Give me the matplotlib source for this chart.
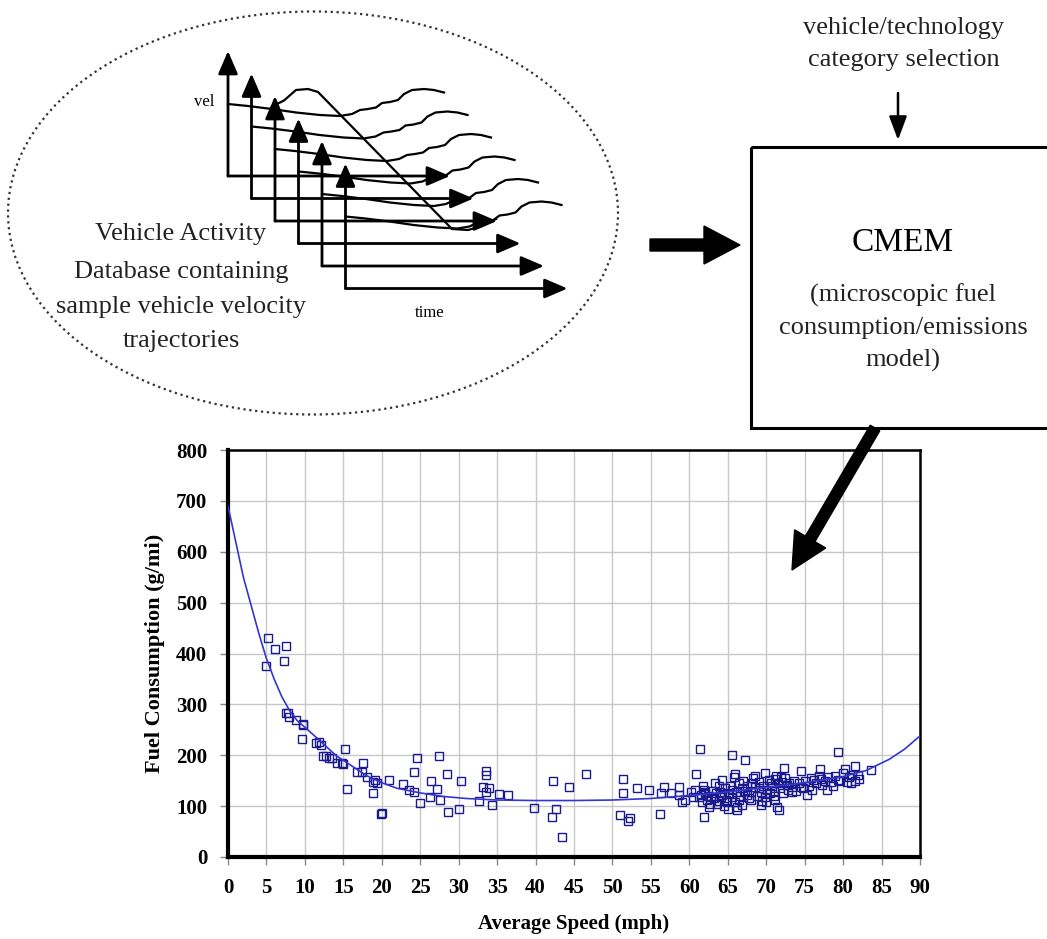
import matplotlib
matplotlib.use('Agg')
import matplotlib.pyplot as plt
from matplotlib.patches import Ellipse, Rectangle

# Данные: средняя скорость (mph) и расход топлива (g/mi)
speed = [
    5.25, 6.1, 7.5, 7.3, 5.0, 7.8, 7.9, 8.9, 9.8, 9.6, 11.5, 12.1, 12.3, 12.8, 13.5,
    14.2, 15.0, 15.2, 15.5, 17.6, 17.4, 18.1, 18.9, 19.4, 18.9, 19.9, 7.6, 9.8, 11.8,
    13.1, 14.8, 16.8, 19.1, 20.0,
    20.9, 22.8, 23.6, 24.2, 24.6, 24.2, 25.0, 26.3, 26.4, 27.2, 27.5, 27.6, 28.5, 28.6,
    30.1, 30.3, 32.6, 33.2, 33.6, 33.6, 33.5, 33.9, 34.4, 35.3, 36.4, 39.8, 42.1, 42.3,
    42.7, 43.4, 44.3, 46.6,
    51.4, 51.4, 53.2, 54.7, 56.3, 56.7, 57.6, 58.6, 59.1, 59.5, 56.2, 51.0, 52.3, 52.0,
    61.4, 60.9, 60.8, 61.9, 65.6, 67.3, 79.4,
    69.9, 72.3, 74.5, 77.0, 80.2, 81.6, 83.6, 81.0, 82.1, 81.2, 79.3, 77.9, 76.2, 75.3,
    71.7, 71.4, 71.2, 66.2, 66.2, 64.3, 63.4, 65.8, 66.0, 61.5, 62.3, 63.6, 62.1, 64.9,
    67.5, 69.1, 69.3, 70.6, 71.1, 71.9, 72.7, 73.4, 74.5, 77.1, 78.4, 66.9, 68.2, 68.0,
    65.6, 64.1, 62.8, 61.9, 58.6,
    61.2, 61.6, 62.0, 62.4, 62.7, 63.0, 63.2, 63.5, 63.8, 64.0, 64.3, 64.6, 64.8, 65.1,
    65.3, 65.5, 65.9, 66.1, 66.4, 66.6, 66.8, 67.0, 67.2, 67.5, 67.7, 68.0, 68.3, 68.5,
    68.8, 69.0, 69.3, 69.6, 69.8, 70.1, 70.3, 70.5, 70.8, 71.0, 71.3, 71.5, 71.8, 72.0,
    72.2, 72.5, 72.8, 73.0, 73.3, 73.6, 73.9, 74.2, 74.8, 75.0, 75.5, 75.8, 76.0, 76.5,
    76.8, 77.3, 77.6, 78.0, 78.7, 79.0, 79.6, 80.0, 80.5, 80.8, 81.5, 82.0, 62.5, 64.5,
    65.0, 70.0, 71.0, 69.5, 68.6, 66.5, 63.8, 61.8, 60.5, 60.2,
]
fuel = [
    431, 408, 415, 386, 375, 283, 275, 270, 259, 231, 225, 220, 198, 198, 194,
    184, 183, 212, 133, 184, 168, 158, 148, 145, 125, 84, 283, 262, 226,
    194, 184, 168, 151, 86,
    151, 143, 132, 128, 194, 168, 107, 117, 150, 134, 198, 112, 163, 89,
    94, 149, 110, 137, 169, 162, 128, 136, 102, 123, 122, 97, 79, 149,
    95, 40, 138, 164,
    153, 126, 135, 131, 125, 137, 126, 138, 109, 112, 84, 82, 76, 71,
    212, 164, 132, 79, 200, 191, 207,
    166, 175, 169, 173, 173, 179, 171, 145, 153, 161, 151, 132, 151, 122,
    92, 99, 112, 92, 99, 151, 145, 158, 164, 122, 112, 105, 128, 109,
    122, 135, 102, 145, 154, 158, 141, 128, 138, 154, 148, 135, 145, 112,
    132, 118, 118, 132, 122,
    118, 108, 125, 120, 105, 130, 115, 125, 110, 128, 122, 135, 113, 126,
    140, 118, 108, 128, 145, 120, 102, 150, 130, 140, 115, 128, 155, 138,
    120, 148, 128, 140, 118, 132, 152, 125, 140, 130, 160, 145, 135, 148,
    125, 155, 132, 145, 138, 150, 130, 145, 135, 150, 140, 155, 132, 145,
    160, 142, 150, 158, 140, 160, 150, 165, 148, 158, 150, 162, 98, 100,
    95, 108, 120, 110, 160, 112, 140, 140, 118, 128,
]

# Линия тренда (считана по точкам с рисунка)
curve_speed = [0, 1, 2, 3, 4, 5, 6, 7, 8, 9, 10, 12, 14, 16, 18, 20, 22, 25, 28, 31,
               35, 40, 45, 50, 55, 60, 65, 70, 75, 80, 83, 86, 88, 90]
curve_fuel = [690, 620, 550, 495, 440, 390, 350, 315, 288, 268, 255, 228, 200, 180, 160,
              146, 135, 126, 119, 115, 112, 111, 111, 112, 115, 121, 128, 137, 146, 158,
              170, 192, 212, 238]

x_ticks = list(range(0, 91, 5))
y_ticks = list(range(0, 801, 100))

# Схема: форма волнистой траектории скорости относительно начала осей (в пикселях)
wave_dx = [0, 20, 44, 68, 92, 112, 124, 132, 140, 148, 154, 162, 170, 176, 184, 196, 206, 216]
wave_dy = [-72, -70, -67, -63.5, -61, -60, -62, -66, -67, -68.5, -73, -74, -76, -82, -86,
           -87, -86, -83.5]
# траектория с разгоном и резким торможением
hump_x = [272, 284, 296, 308, 318, 452, 468, 482, 496]
hump_y = [106.5, 100.5, 90, 89, 92, 229, 230, 226, 219]
# начала осей "vel/time"
axis_x0 = [228, 251.5, 275, 298.5, 322, 345.5]
axis_y0 = [176, 198.5, 221, 243.5, 266, 288.5]

serif = 'Liberation Serif'

fig = plt.figure(figsize=(10.47, 9.39), dpi=100)

# --- график расхода топлива ---
ax = fig.add_axes([228 / 1047, 1 - 857 / 939, (920 - 228) / 1047, (857 - 450) / 939])
ax.plot(speed, fuel, linestyle='none', marker='s', markersize=5.5, markerfacecolor='none',
        markeredgecolor='#1a1a8a', markeredgewidth=1.0, zorder=3)
ax.plot(curve_speed, curve_fuel, color='#3535d0', lw=1.2, zorder=4)
ax.set_xlim(0, 90)
ax.set_ylim(0, 800)
ax.set_xticks(x_ticks)
ax.set_yticks(y_ticks)
ax.set_xticklabels([str(v) for v in x_ticks], fontweight='bold', family=serif, fontsize=15)
ax.set_yticklabels([str(v) for v in y_ticks], fontweight='bold', family=serif, fontsize=15)
ax.tick_params(direction='out', length=6, width=1, color='#888888', pad=9)
ax.grid(True, color='#c8c8c8', lw=1)
ax.set_axisbelow(True)
for side in ['left', 'bottom']:
    ax.spines[side].set_linewidth(3)
for side in ['top', 'right']:
    ax.spines[side].set_linewidth(1.8)
ax.set_xlabel('Average Speed (mph)', fontweight='bold', family=serif, fontsize=15, labelpad=12)
ax.set_ylabel('Fuel Consumption (g/mi)', fontweight='bold', family=serif, fontsize=16,
              labelpad=8)

# --- схема поверх (координаты в пикселях) ---
ov = fig.add_axes([0, 0, 1, 1])
ov.set_xlim(0, 1047)
ov.set_ylim(939, 0)
ov.axis('off')

ov.add_patch(Ellipse((313, 213), 610, 403, fill=False, linestyle=':', lw=1.6,
                     edgecolor='#333333'))

arrow_style = dict(arrowstyle='-|>,head_length=0.7,head_width=0.3', lw=2, color='black',
                   shrinkA=0, shrinkB=0, mutation_scale=20)
for x0, y0 in zip(axis_x0, axis_y0):
    ov.annotate('', xy=(x0, y0 - 125), xytext=(x0, y0), arrowprops=arrow_style)
    ov.annotate('', xy=(x0 + 222, y0), xytext=(x0, y0), arrowprops=arrow_style)
    ov.plot([x0 + d for d in wave_dx], [y0 + d for d in wave_dy], color='black', lw=1.6)
ov.plot(hump_x, hump_y, color='black', lw=1.6)

ov.text(204, 102, 'vel', family=serif, fontsize=12, ha='center', va='center')
ov.text(430, 313, 'time', family=serif, fontsize=12, ha='center', va='center')
for txt, yy in zip(['Vehicle Activity', 'Database containing', 'sample vehicle velocity',
                    'trajectories'], [234, 272, 307, 341]):
    ov.text(181, yy, txt, family=serif, fontsize=19, ha='center', va='center',
            color='#222222')

# блок CMEM
ov.add_patch(Rectangle((751, 147), 330, 281, fill=False, lw=2.2, edgecolor='black'))
ov.text(903, 243, 'CMEM', family=serif, fontsize=24, ha='center', va='center')
for txt, yy in zip(['(microscopic fuel', 'consumption/emissions', 'model)'], [295, 328, 360]):
    ov.text(903, yy, txt, family=serif, fontsize=19, ha='center', va='center',
            color='#222222')

ov.text(904, 28, 'vehicle/technology', family=serif, fontsize=19, ha='center', va='center',
        color='#222222')
ov.text(904, 60, 'category selection', family=serif, fontsize=19, ha='center', va='center',
        color='#222222')
ov.annotate('', xy=(898, 140), xytext=(898, 93),
            arrowprops=dict(arrowstyle='-|>,head_length=0.8,head_width=0.3', lw=1.8,
                            color='black', shrinkA=0, shrinkB=0, mutation_scale=18))

# толстые стрелки
ov.arrow(650, 245, 90, 0, width=12, head_width=38, head_length=36,
         length_includes_head=True, color='black')
ov.arrow(875, 428, -83, 142, width=11, head_width=36, head_length=36,
         length_includes_head=True, color='black')

fig.savefig('out.png', dpi=100)
